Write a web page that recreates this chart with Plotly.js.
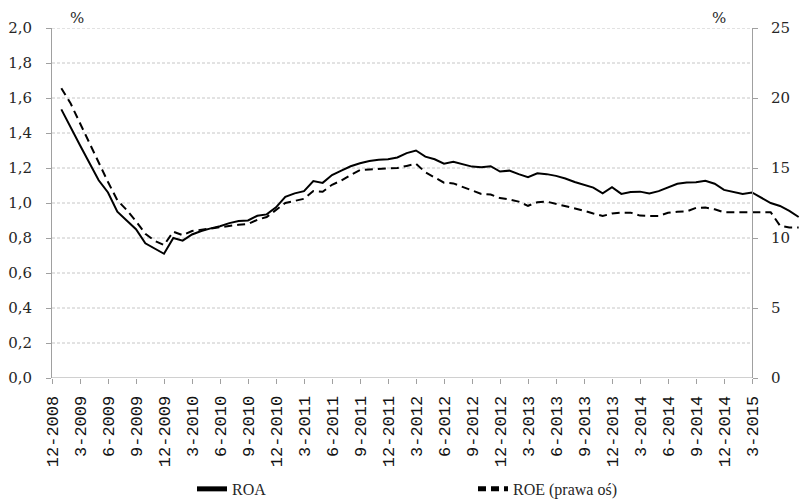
<!DOCTYPE html>
<html>
<head>
<meta charset="utf-8">
<script src="https://cdn.plot.ly/plotly-3.0.1.min.js"></script>
<style>html,body{margin:0;padding:0;background:#fff;}#chart{width:801px;height:500px;}</style>
</head>
<body>
<div id="chart"></div>
<script>
// Months (12-2008 ... 8-2015)
const months = [
 "12-2008",
 "1-2009","2-2009","3-2009","4-2009","5-2009","6-2009","7-2009","8-2009","9-2009","10-2009","11-2009","12-2009",
 "1-2010","2-2010","3-2010","4-2010","5-2010","6-2010","7-2010","8-2010","9-2010","10-2010","11-2010","12-2010",
 "1-2011","2-2011","3-2011","4-2011","5-2011","6-2011","7-2011","8-2011","9-2011","10-2011","11-2011","12-2011",
 "1-2012","2-2012","3-2012","4-2012","5-2012","6-2012","7-2012","8-2012","9-2012","10-2012","11-2012","12-2012",
 "1-2013","2-2013","3-2013","4-2013","5-2013","6-2013","7-2013","8-2013","9-2013","10-2013","11-2013","12-2013",
 "1-2014","2-2014","3-2014","4-2014","5-2014","6-2014","7-2014","8-2014","9-2014","10-2014","11-2014","12-2014",
 "1-2015","2-2015","3-2015","4-2015","5-2015","6-2015","7-2015","8-2015"
];

// ROA (left axis, %)
const roa = [
 null,
 1.535,1.43,1.33,1.23,1.13,1.06,0.95,0.90,0.85,0.77,0.74,0.71,
 0.80,0.785,0.82,0.84,0.855,0.867,0.885,0.897,0.90,0.927,0.935,0.975,
 1.035,1.055,1.068,1.125,1.115,1.16,1.185,1.21,1.227,1.24,1.247,1.25,
 1.26,1.285,1.30,1.265,1.25,1.225,1.235,1.22,1.208,1.205,1.21,1.18,
 1.185,1.165,1.148,1.17,1.165,1.155,1.14,1.12,1.106,1.088,1.055,1.09,
 1.052,1.063,1.065,1.055,1.068,1.088,1.11,1.117,1.118,1.127,1.11,1.075,
 1.062,1.052,1.06,1.03,1.0,0.983,0.955,0.92
];

// ROE (right axis, %)
const roe = [
 null,
 20.7,19.6,18.2,16.8,15.3,14.0,12.7,12.0,11.2,10.3,9.8,9.5,
 10.45,10.2,10.5,10.6,10.65,10.8,10.9,10.95,11.0,11.3,11.5,12.0,
 12.5,12.65,12.8,13.35,13.3,13.8,14.1,14.5,14.85,14.9,14.95,14.95,
 15.0,15.15,15.3,14.7,14.35,13.95,13.9,13.65,13.35,13.15,13.1,12.85,
 12.75,12.6,12.3,12.55,12.6,12.45,12.25,12.1,11.95,11.75,11.57,11.75,
 11.81,11.81,11.6,11.57,11.57,11.8,11.88,11.9,12.15,12.17,12.05,11.84,
 11.84,11.84,11.84,11.84,11.84,10.88,10.75,10.75
];

// Tick labels on the x axis (every 3 months)
const xTickLabels = ["12-2008","3-2009","6-2009","9-2009","12-2009","3-2010","6-2010","9-2010","12-2010",
 "3-2011","6-2011","9-2011","12-2011","3-2012","6-2012","9-2012","12-2012","3-2013","6-2013","9-2013",
 "12-2013","3-2014","6-2014","9-2014","12-2014","3-2015"];
const leftTicks = [0,0.2,0.4,0.6,0.8,1.0,1.2,1.4,1.6,1.8,2.0];
const rightTicks = [0,5,10,15,20,25];

const lastTickIdx = months.indexOf(xTickLabels[xTickLabels.length-1]);
const axisGray = '#a0a0a0';
const txt = '#262626';
const tickFont = {family:'DejaVu Serif', size:15, color:txt};

const shapes = leftTicks.filter(v => v > 0).map(v => ({
  type:'line', xref:'x', yref:'y', x0:0, x1:lastTickIdx, y0:v, y1:v,
  line:{color:'#c6c6c6', width:1, dash:'3px,2px'}, layer:'below'
}));
shapes.push({type:'line', xref:'x', yref:'y', x0:0, x1:lastTickIdx, y0:0, y1:0,
  line:{color:axisGray, width:1}, layer:'above'});

const traces = [
  {x:months, y:roa, name:'ROA', type:'scatter', mode:'lines',
   line:{color:'#000', width:2}},
  {x:months, y:roe, name:'ROE (prawa oś)', type:'scatter', mode:'lines', yaxis:'y2',
   line:{color:'#000', width:2, dash:'8px,5px'}}
];

const plotW = 801 - 52;
const layout = {
  width:801, height:500,
  margin:{l:52, r:0, t:28, b:122, autoexpand:false},
  paper_bgcolor:'#fff', plot_bgcolor:'#fff',
  separators:',.',
  showlegend:true,
  xaxis:{
    type:'category', categoryorder:'array', categoryarray:months,
    range:[0, 80.25], domain:[0,1], automargin:false,
    tickmode:'array', tickvals:xTickLabels, ticktext:xTickLabels,
    tickangle:-90, ticks:'outside', ticklen:5, tickcolor:axisGray,
    ticklabelstandoff:5,
    showline:false, showgrid:false, zeroline:false,
    tickfont:{family:'Liberation Mono', size:17, color:'#111'},
    fixedrange:true
  },
  yaxis:{
    range:[0,2], tickmode:'array', tickvals:leftTicks, tickformat:'.1f', automargin:false,
    ticks:'outside', ticklen:5, tickcolor:axisGray,
    showline:true, linecolor:axisGray, linewidth:1,
    showgrid:false, zeroline:false, tickfont:tickFont,
    ticklabelstandoff:11
  },
  yaxis2:{
    range:[0,25], tickmode:'array', tickvals:rightTicks, automargin:false,
    overlaying:'y', side:'right', anchor:'free', position:(752-52)/plotW,
    ticks:'outside', ticklen:5, tickcolor:axisGray,
    showline:true, linecolor:axisGray, linewidth:1,
    showgrid:false, zeroline:false, tickfont:tickFont,
    ticklabelstandoff:10
  },
  legend:{
    orientation:'h', x:(192-52)/plotW, xanchor:'left', y:-0.317, yanchor:'middle',
    font:{family:'Liberation Serif', size:16, color:txt},
    entrywidth:236, entrywidthmode:'pixels', bgcolor:'rgba(0,0,0,0)',
    itemsizing:'constant'
  },
  shapes:shapes,
  annotations:[
    {text:'%', xref:'paper', yref:'paper', x:(77-52)/plotW, y:(378-18)/350, showarrow:false,
     font:tickFont, xanchor:'center', yanchor:'middle'},
    {text:'%', xref:'paper', yref:'paper', x:(719-52)/plotW, y:(378-18)/350, showarrow:false,
     font:tickFont, xanchor:'center', yanchor:'middle'}
  ]
};

Plotly.newPlot('chart', traces, layout, {displayModeBar:false, staticPlot:true});
</script>
</body>
</html>
